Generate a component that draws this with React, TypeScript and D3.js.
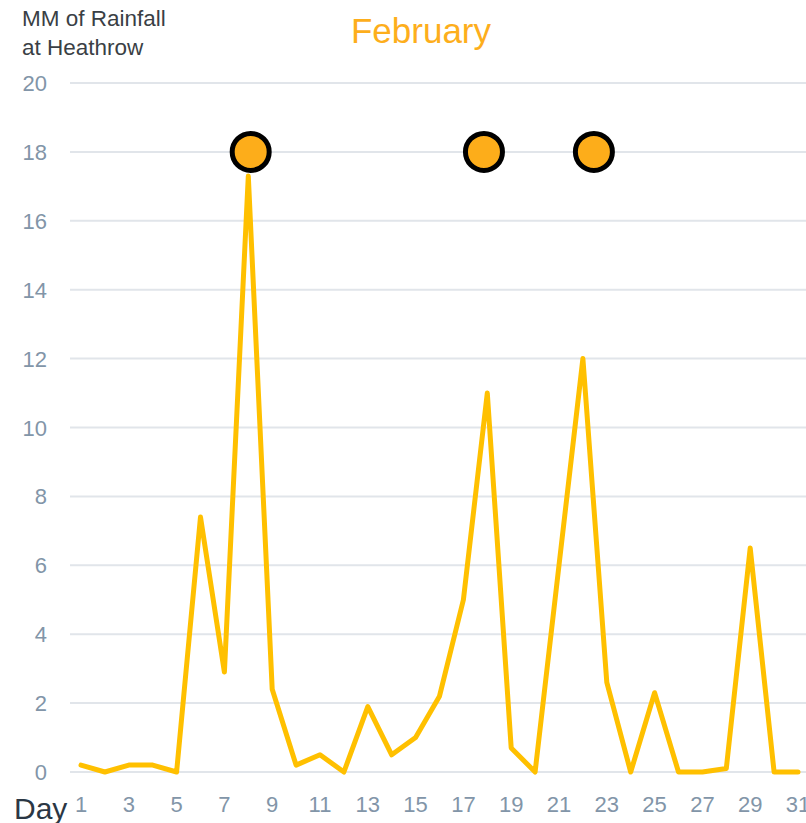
import React from 'react';
import * as d3 from 'd3';

// daily rainfall in mm, days 1..31
const days = d3.range(1, 32);
const rainfall = [
  0.2, 0, 0.2, 0.2, 0, 7.4, 2.9, 17.3, 2.4, 0.2,
  0.5, 0, 1.9, 0.5, 1.0, 2.2, 5.0, 11.0, 0.7, 0,
  6.0, 12.0, 2.6, 0, 2.3, 0, 0, 0.1, 6.5, 0, 0,
];
const markerDays = [8.1, 17.86, 22.46];
const markerValue = 18;
const yTicks = [0, 2, 4, 6, 8, 10, 12, 14, 16, 18, 20];
const xTicks = [1, 3, 5, 7, 9, 11, 13, 15, 17, 19, 21, 23, 25, 27, 29, 31];

const W = 806;
const H = 823;
const FONT = '"Liberation Sans", Arial, sans-serif';

const App = () => {
  const x = d3.scaleLinear().domain([1, 31]).range([81, 798]);
  const y = d3.scaleLinear().domain([0, 20]).range([772, 83]);

  const line = d3.line<number>()
    .x((d, i) => x(days[i]))
    .y(d => y(d));

  return (
    <svg width={W} height={H} style={{ position: 'absolute', left: 0, top: 0 }}
      fontFamily={FONT}>
      {/* grid */}
      {yTicks.map(t => (
        <g key={t}>
          <line x1={70} x2={W} y1={y(t)} y2={y(t)} stroke="#e1e5ea" strokeWidth={2} />
          <text x={47} y={y(t) + 8} textAnchor="end" fontSize={22} fill="#8295a8">{t}</text>
        </g>
      ))}
      {xTicks.map(t => (
        <text key={t} x={x(t)} y={812} textAnchor="middle" fontSize={22} fill="#8295a8">{t}</text>
      ))}
      <text x={14} y={819} fontSize={30} fill="#2b3744">Day</text>

      <text x={22} y={26} fontSize={22.5} fill="#3a3f45">MM of Rainfall</text>
      <text x={22} y={55} fontSize={22.5} fill="#3a3f45">at Heathrow</text>
      <text x={421} y={43} textAnchor="middle" fontSize={35} fill="#fdae1c">February</text>

      <path d={line(rainfall) || ''} fill="none" stroke="#ffc000" strokeWidth={5}
        strokeLinejoin="round" strokeLinecap="round" />

      {markerDays.map(d => (
        <circle key={d} cx={x(d)} cy={y(markerValue)} r={18.5}
          fill="#fdad1a" stroke="#000" strokeWidth={5} />
      ))}
    </svg>
  );
};

export default App;
